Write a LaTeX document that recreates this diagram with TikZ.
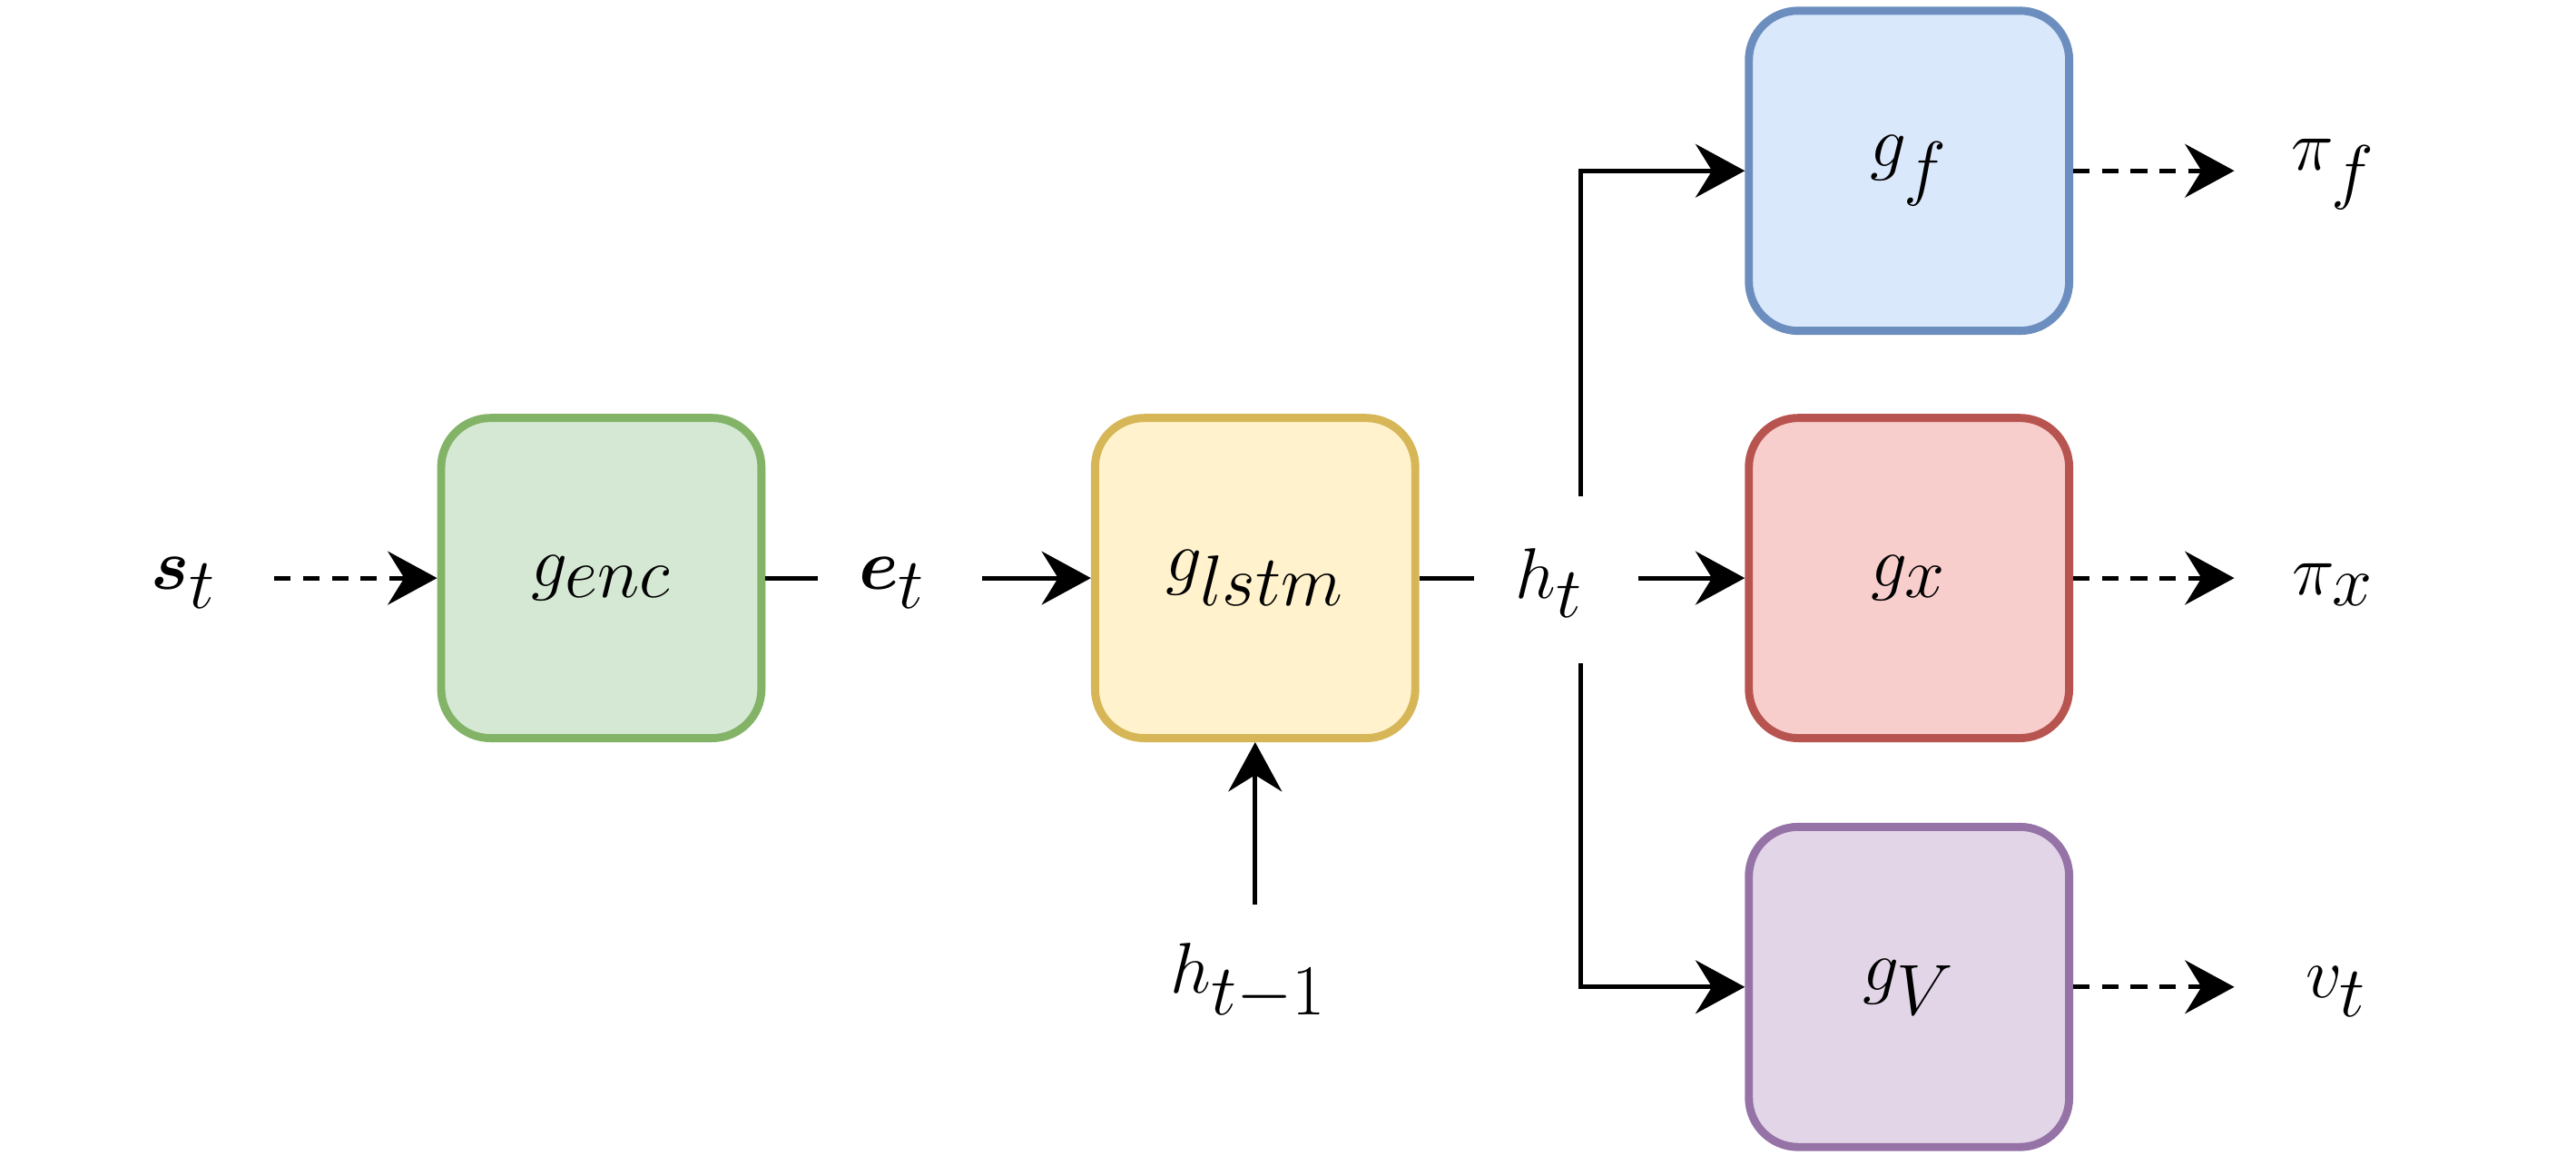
\documentclass[tikz,border=0pt]{standalone}
\usepackage{amsmath,bm}
\usetikzlibrary{arrows.meta}
\definecolor{gf}{HTML}{D5E8D4}\definecolor{gs}{HTML}{82B366}
\definecolor{yf}{HTML}{FFF2CC}\definecolor{ys}{HTML}{D6B656}
\definecolor{bf}{HTML}{DAE8FC}\definecolor{bs}{HTML}{6C8EBF}
\definecolor{rf}{HTML}{F8CECC}\definecolor{rs}{HTML}{B85450}
\definecolor{pf}{HTML}{E1D5E7}\definecolor{ps}{HTML}{9673A6}
\begin{document}
\begin{tikzpicture}[x=0.02cm,y=-0.02cm,
  blk/.style={draw=#1s,fill=#1f,line width=2.8pt,rounded corners=0.6cm,minimum width=3.9cm,minimum height=3.9cm,inner sep=0pt,font=\fontsize{40}{48}\selectfont},
  lbl/.style={inner sep=0pt,font=\fontsize{40}{48}\selectfont},
  con/.style={line width=1.6pt,-{Stealth[length=0.6cm,width=0.65cm,inset=0.2cm]}},
  dcon/.style={con,dashed,dash pattern=on 0.2cm off 0.15cm},
  ln/.style={line width=1.6pt}]
\useasboundingbox (0,0) rectangle (1568,703);
\node[blk=g] (enc) at (366,352) {$g_{enc}$};
\node[blk=y] (lstm) at (764,352) {$g_{lstm}$};
\node[blk=b] (gf) at (1162,104) {$g_f$};
\node[blk=r] (gx) at (1162,352) {$g_x$};
\node[blk=p] (gv) at (1162,601) {$g_V$};
\node[lbl] (st) at (112,355) {$\bm{s}_t$};
\node[lbl] (et) at (543,355) {$\bm{e}_t$};
\node[lbl] (ht) at (943,355) {$h_t$};
\node[lbl] (hp) at (760,598) {$h_{t-1}$};
\node[lbl] (pf) at (1420,106) {$\pi_f$};
\node[lbl] (px) at (1420,356) {$\pi_x$};
\node[lbl] (vt) at (1422,604) {$v_t$};
\coordinate (a1) at (167,352); \draw[dcon] (a1) -- (enc.west);
\coordinate (a2) at (498,352); \draw[ln] (enc.east) -- (a2);
\coordinate (a3) at (598,352); \draw[con] (a3) -- (lstm.west);
\coordinate (a4) at (897,352); \draw[ln] (lstm.east) -- (a4);
\coordinate (a5) at (997,352); \draw[con] (a5) -- (gx.west);
\coordinate (u1) at (962,302); \draw[con] (u1) |- (gf.west);
\coordinate (d1) at (962,404); \draw[con] (d1) |- (gv.west);
\coordinate (h1) at (764,551); \draw[con] (h1) -- (lstm.south);
\coordinate (o1) at (1360,104); \draw[dcon] (gf.east) -- (o1);
\coordinate (o2) at (1360,352); \draw[dcon] (gx.east) -- (o2);
\coordinate (o3) at (1360,601); \draw[dcon] (gv.east) -- (o3);
\end{tikzpicture}
\end{document}
